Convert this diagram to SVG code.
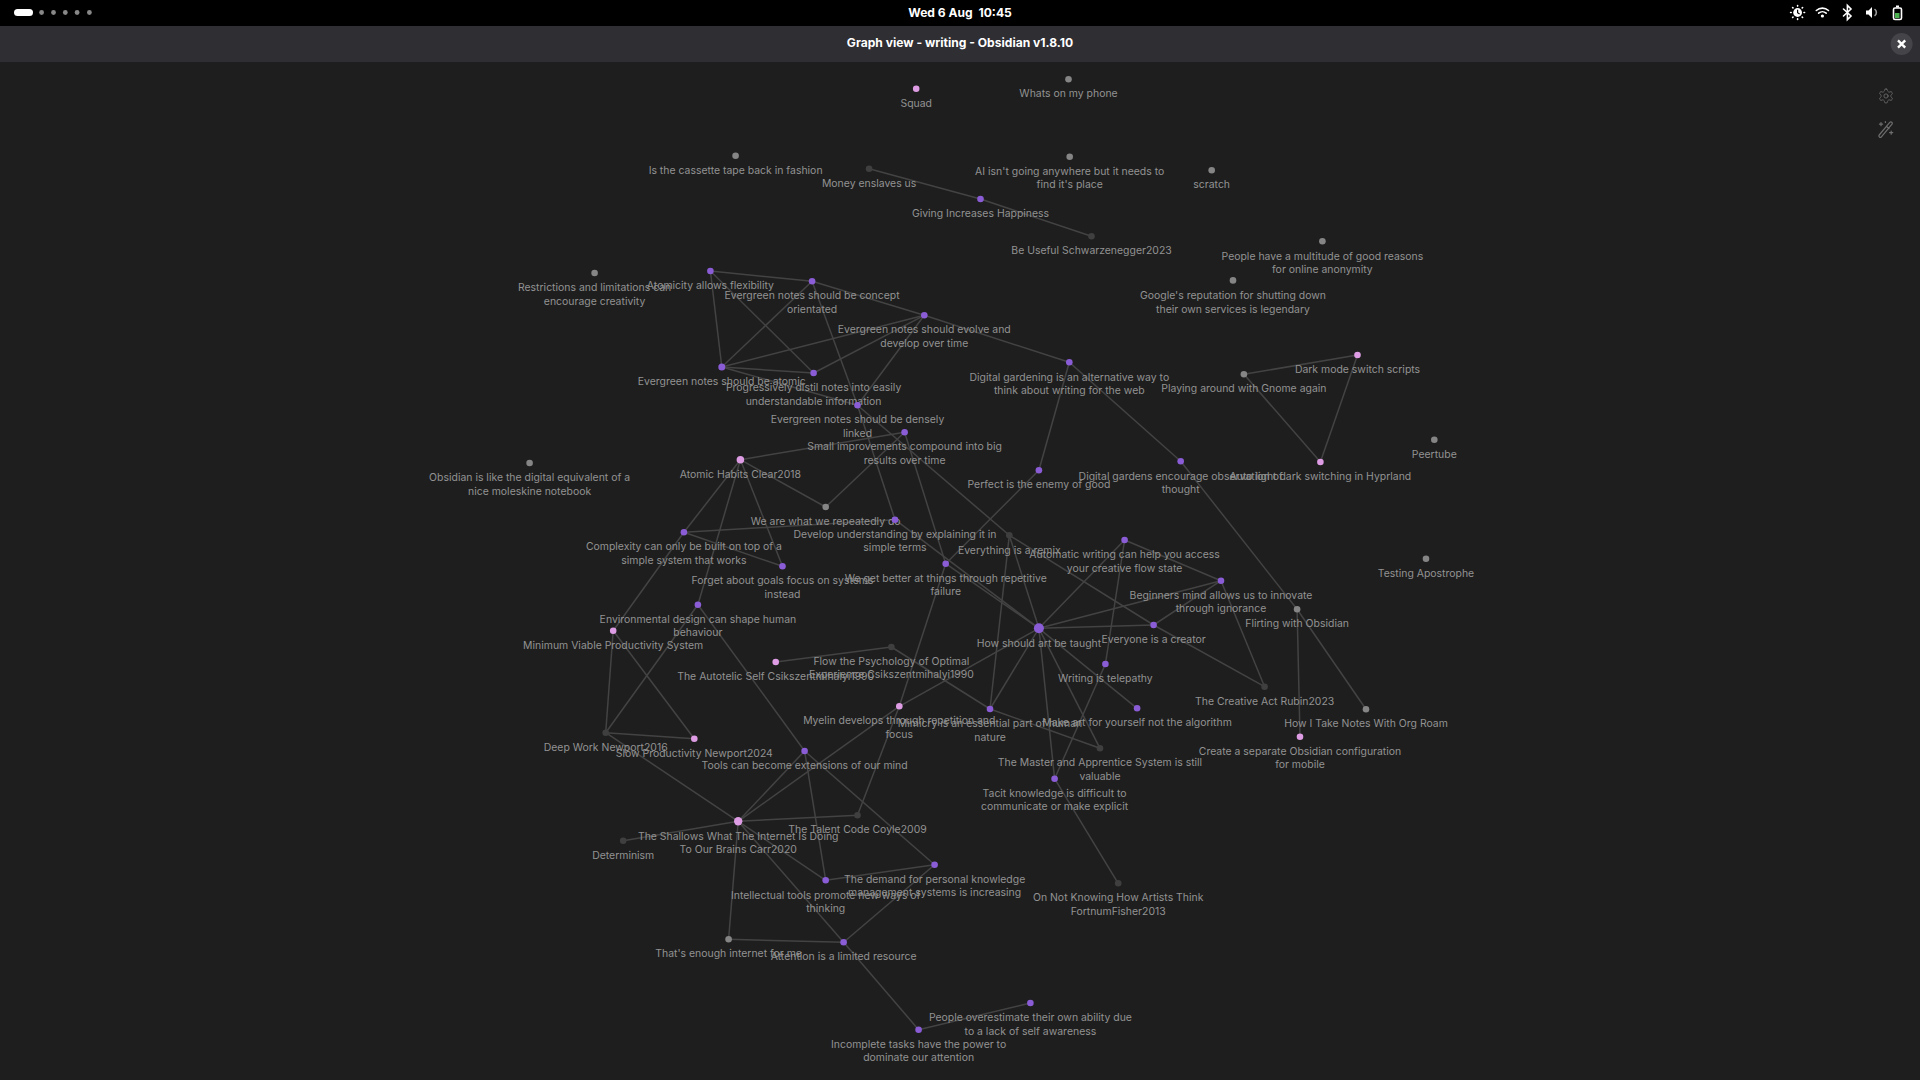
<svg xmlns="http://www.w3.org/2000/svg" width="1920" height="1080" viewBox="0 0 1920 1080">
<style>
text{font-family:Inter,"Liberation Sans",sans-serif}
.l{font-size:10.45px;fill:#929292;text-anchor:middle}
.e line{stroke:#434343;stroke-width:1.5}
.p{fill:#8a5cd6}.k{fill:#dd9ce3}.g{fill:#858585}.d{fill:#3f3f3f}
.h{font-size:12.1px;font-weight:700;fill:#fff;text-anchor:middle;white-space:pre}
.t{fill:none;stroke:#fff;stroke-width:1.6;stroke-linecap:round}
.s{fill:none;stroke:#6e6e6e;stroke-width:1.2;stroke-linecap:round;stroke-linejoin:round}
</style>
<rect width="1920" height="1080" fill="#1e1e1e"/>
<rect width="1920" height="26" fill="#000"/>
<rect y="26" width="1920" height="36" fill="#2e2e33"/>
<g id="topbar">
<rect x="14" y="9" width="19" height="7" rx="3.5" fill="#fff"/>
<g fill="#888"><circle cx="41.6" cy="12.5" r="2.4"/><circle cx="53.5" cy="12.5" r="2.4"/><circle cx="65.3" cy="12.5" r="2.4"/><circle cx="77.1" cy="12.5" r="2.4"/><circle cx="89.4" cy="12.5" r="2.4"/></g>
<text class="h" x="960" y="17">Wed 6 Aug  10:45</text>
<g id="tray">
<circle cx="1797.6" cy="12.5" r="4.4" fill="#fff"/><path d="M1797.6 9.8v2.9l2 1.4" fill="none" stroke="#000" stroke-width="1.2"/><path class="t" stroke-width="1.2" d="M1797.6 5.5v.6M1797.6 18.9v.6M1790.6 12.5h.6M1804 12.5h.6M1792.6 7.5l.4.4M1802.2 17.1l.4.4M1792.6 17.5l.4-.4M1802.2 7.9l.4-.4"/>
<path class="t" d="M1816.3 10.5a9 9 0 0 1 12.2 0M1818.6 13.2a5.6 5.6 0 0 1 7.6 0"/><circle cx="1822.4" cy="16" r="1.6" fill="#fff"/>
<path class="t" d="M1843.5 9l7.5 7-3.6 3.5V5.5l3.6 3.5-7.5 7"/>
<path d="M1866 10.5h2.5l3.5-3.5v11l-3.5-3.5H1866z" fill="#fff"/><path class="t" d="M1875 9.5a4 4 0 0 1 0 6" stroke-width="1.1" opacity=".6"/>
<rect x="1893.5" y="8" width="8" height="11.5" rx="1.5" class="t" stroke-width="1.3"/><rect x="1896" y="5.5" width="3" height="2" fill="#fff"/><rect x="1895" y="13" width="4.5" height="5" fill="#4caf50"/>
</g>
<text class="h" x="960" y="47">Graph view - writing - Obsidian v1.8.10</text>
<circle cx="1901.6" cy="44" r="11" fill="#454549"/>
<path d="M1898 40.4l7.2 7.2M1905.2 40.4l-7.2 7.2" stroke="#fff" stroke-width="2.4" fill="none"/>
</g>
<g id="graph-controls">
<g transform="translate(1877.6 87.6) scale(.7)"><path class="s" stroke-width="1.7" d="M12.22 2h-.44a2 2 0 0 0-2 2v.18a2 2 0 0 1-1 1.73l-.43.25a2 2 0 0 1-2 0l-.15-.08a2 2 0 0 0-2.73.73l-.22.38a2 2 0 0 0 .73 2.73l.15.1a2 2 0 0 1 1 1.72v.51a2 2 0 0 1-1 1.74l-.15.09a2 2 0 0 0-.73 2.73l.22.38a2 2 0 0 0 2.73.73l.15-.08a2 2 0 0 1 2 0l.43.25a2 2 0 0 1 1 1.73V20a2 2 0 0 0 2 2h.44a2 2 0 0 0 2-2v-.18a2 2 0 0 1 1-1.73l.43-.25a2 2 0 0 1 2 0l.15.08a2 2 0 0 0 2.73-.73l.22-.39a2 2 0 0 0-.73-2.73l-.15-.08a2 2 0 0 1-1-1.74v-.5a2 2 0 0 1 1-1.74l.15-.09a2 2 0 0 0 .73-2.73l-.22-.38a2 2 0 0 0-2.73-.73l-.15.08a2 2 0 0 1-2 0l-.43-.25a2 2 0 0 1-1-1.73V4a2 2 0 0 0-2-2z"/><circle class="s" stroke-width="1.7" cx="12" cy="12" r="3"/></g>
<path class="s" d="M1879.2 135l10.6-12.6a1.4 1.4 0 0 1 2.2 1.8l-10.6 12.6a1.4 1.4 0 0 1-2.2-1.8zM1886.6 126.5l2.4 2M1881 122.5v3.2M1879.4 124.1h3.2M1891.2 131v3.2M1889.6 132.6h3.2M1885.4 121.5v1"/>
</g>
<g class="e" id="connectors">
<line x1="869.1" y1="168.7" x2="980.5" y2="199"/>
<line x1="980.5" y1="199" x2="1091.5" y2="236.3"/>
<line x1="710.4" y1="271" x2="812.1" y2="281.3"/>
<line x1="710.4" y1="271" x2="721.8" y2="367"/>
<line x1="710.4" y1="271" x2="813.6" y2="373"/>
<line x1="812.1" y1="281.3" x2="721.8" y2="367"/>
<line x1="812.1" y1="281.3" x2="924.3" y2="315.3"/>
<line x1="812.1" y1="281.3" x2="857.5" y2="405.3"/>
<line x1="924.3" y1="315.3" x2="721.8" y2="367"/>
<line x1="924.3" y1="315.3" x2="813.6" y2="373"/>
<line x1="924.3" y1="315.3" x2="857.5" y2="405.3"/>
<line x1="924.3" y1="315.3" x2="1069.3" y2="362.3"/>
<line x1="721.8" y1="367" x2="813.6" y2="373"/>
<line x1="721.8" y1="367" x2="857.5" y2="405.3"/>
<line x1="857.5" y1="405.3" x2="895" y2="519.7"/>
<line x1="857.5" y1="405.3" x2="1009.3" y2="535.3"/>
<line x1="904.6" y1="432.3" x2="740.4" y2="459.7"/>
<line x1="904.6" y1="432.3" x2="825.7" y2="507"/>
<line x1="904.6" y1="432.3" x2="945.7" y2="563.7"/>
<line x1="740.4" y1="459.7" x2="825.7" y2="507"/>
<line x1="740.4" y1="459.7" x2="683.9" y2="532.3"/>
<line x1="740.4" y1="459.7" x2="697.9" y2="604.7"/>
<line x1="740.4" y1="459.7" x2="782.5" y2="566.3"/>
<line x1="683.9" y1="532.3" x2="782.5" y2="566.3"/>
<line x1="683.9" y1="532.3" x2="613.2" y2="630.7"/>
<line x1="683.9" y1="532.3" x2="895" y2="519.7"/>
<line x1="605.7" y1="732.7" x2="697.9" y2="604.7"/>
<line x1="605.7" y1="732.7" x2="613.2" y2="630.7"/>
<line x1="605.7" y1="732.7" x2="694.3" y2="738.7"/>
<line x1="613.2" y1="630.7" x2="694.3" y2="738.7"/>
<line x1="605.7" y1="732.7" x2="738.2" y2="821.3"/>
<line x1="697.9" y1="604.7" x2="804.6" y2="751"/>
<line x1="891.4" y1="647" x2="775.7" y2="662"/>
<line x1="891.4" y1="647" x2="990" y2="709"/>
<line x1="945.7" y1="563.7" x2="899.3" y2="706.3"/>
<line x1="899.3" y1="706.3" x2="857.5" y2="815.3"/>
<line x1="899.3" y1="706.3" x2="1038.9" y2="628.3"/>
<line x1="899.3" y1="706.3" x2="738.2" y2="821.3"/>
<line x1="804.6" y1="751" x2="738.2" y2="821.3"/>
<line x1="804.6" y1="751" x2="825.7" y2="880.3"/>
<line x1="804.6" y1="751" x2="934.6" y2="864.7"/>
<line x1="738.2" y1="821.3" x2="857.5" y2="815.3"/>
<line x1="738.2" y1="821.3" x2="623.2" y2="840.7"/>
<line x1="738.2" y1="821.3" x2="728.6" y2="939.3"/>
<line x1="738.2" y1="821.3" x2="825.7" y2="880.3"/>
<line x1="738.2" y1="821.3" x2="843.6" y2="942.3"/>
<line x1="934.6" y1="864.7" x2="825.7" y2="880.3"/>
<line x1="934.6" y1="864.7" x2="843.6" y2="942.3"/>
<line x1="728.6" y1="939.3" x2="843.6" y2="942.3"/>
<line x1="843.6" y1="942.3" x2="918.6" y2="1029.7"/>
<line x1="918.6" y1="1029.7" x2="1030.4" y2="1003"/>
<line x1="895" y1="519.7" x2="1038.9" y2="628.3"/>
<line x1="945.7" y1="563.7" x2="1038.9" y2="628.3"/>
<line x1="1038.9" y1="470.3" x2="945.7" y2="563.7"/>
<line x1="1038.9" y1="470.3" x2="1069.3" y2="362.3"/>
<line x1="1069.3" y1="362.3" x2="1180.7" y2="461.3"/>
<line x1="1180.7" y1="461.3" x2="1297.1" y2="609.3"/>
<line x1="1297.1" y1="609.3" x2="1300" y2="736.7"/>
<line x1="1297.1" y1="609.3" x2="1366" y2="709.3"/>
<line x1="1243.9" y1="374.3" x2="1357.5" y2="355"/>
<line x1="1243.9" y1="374.3" x2="1320.4" y2="462"/>
<line x1="1357.5" y1="355" x2="1320.4" y2="462"/>
<line x1="1009.3" y1="535.3" x2="1153.6" y2="625"/>
<line x1="1009.3" y1="535.3" x2="1038.9" y2="628.3"/>
<line x1="1009.3" y1="535.3" x2="990" y2="709"/>
<line x1="1038.9" y1="628.3" x2="1124.6" y2="540"/>
<line x1="1038.9" y1="628.3" x2="1221" y2="580.7"/>
<line x1="1038.9" y1="628.3" x2="1153.6" y2="625"/>
<line x1="1038.9" y1="628.3" x2="1137.1" y2="708.3"/>
<line x1="1038.9" y1="628.3" x2="1054.6" y2="778.7"/>
<line x1="1038.9" y1="628.3" x2="1100" y2="748.3"/>
<line x1="1038.9" y1="628.3" x2="990" y2="709"/>
<line x1="1124.6" y1="540" x2="1221" y2="580.7"/>
<line x1="1124.6" y1="540" x2="1105.4" y2="664"/>
<line x1="1105.4" y1="664" x2="1054.6" y2="778.7"/>
<line x1="1221" y1="580.7" x2="1153.6" y2="625"/>
<line x1="1221" y1="580.7" x2="1264.6" y2="686.7"/>
<line x1="1153.6" y1="625" x2="1264.6" y2="686.7"/>
<line x1="990" y1="709" x2="1100" y2="748.3"/>
<line x1="1054.6" y1="778.7" x2="1118.2" y2="883.3"/>
</g>
<g id="n-squad"><circle class="k" cx="916.2" cy="88.7" r="3.3"/><text class="l" x="916.2" y="106.5">Squad</text></g>
<g id="n-whats"><circle class="g" cx="1068.5" cy="79.3" r="3.3"/><text class="l" x="1068.5" y="97.3">Whats on my phone</text></g>
<g id="n-cassette"><circle class="g" cx="735.6" cy="155.7" r="3.3"/><text class="l" x="735.6" y="173.7">Is the cassette tape back in fashion</text></g>
<g id="n-money"><circle class="d" cx="869.1" cy="168.7" r="3.3"/><text class="l" x="869.1" y="187.3">Money enslaves us</text></g>
<g id="n-ai"><circle class="g" cx="1069.7" cy="156.7" r="3.3"/><text class="l" x="1069.7" y="175">AI isn't going anywhere but it needs to</text><text class="l" x="1069.7" y="188.3">find it's place</text></g>
<g id="n-scratch"><circle class="g" cx="1211.7" cy="170.3" r="3.3"/><text class="l" x="1211.7" y="188.3">scratch</text></g>
<g id="n-giving"><circle class="p" cx="980.5" cy="199" r="3.3"/><text class="l" x="980.5" y="217.3">Giving Increases Happiness</text></g>
<g id="n-beuseful"><circle class="d" cx="1091.5" cy="236.3" r="3.3"/><text class="l" x="1091.5" y="254.3">Be Useful Schwarzenegger2023</text></g>
<g id="n-people-have"><circle class="g" cx="1322.4" cy="241.2" r="3.3"/><text class="l" x="1322.4" y="259.9">People have a multitude of good reasons</text><text class="l" x="1322.4" y="273.4">for online anonymity</text></g>
<g id="n-google"><circle class="g" cx="1233" cy="280.4" r="3.3"/><text class="l" x="1233" y="299">Google's reputation for shutting down</text><text class="l" x="1233" y="312.6">their own services is legendary</text></g>
<g id="n-restrictions"><circle class="g" cx="594.6" cy="273" r="3.3"/><text class="l" x="594.6" y="291.3">Restrictions and limitations can</text><text class="l" x="594.6" y="304.7">encourage creativity</text></g>
<g id="n-atomicity"><circle class="p" cx="710.4" cy="271" r="3.3"/><text class="l" x="710.4" y="289.3">Atomicity allows flexibility</text></g>
<g id="n-concept"><circle class="p" cx="812.1" cy="281.3" r="3.3"/><text class="l" x="812.1" y="299.3">Evergreen notes should be concept</text><text class="l" x="812.1" y="312.7">orientated</text></g>
<g id="n-evolve"><circle class="p" cx="924.3" cy="315.3" r="3.3"/><text class="l" x="924.3" y="333.3">Evergreen notes should evolve and</text><text class="l" x="924.3" y="346.7">develop over time</text></g>
<g id="n-atomic"><circle class="p" cx="721.8" cy="367" r="3.5"/><text class="l" x="721.8" y="385.3">Evergreen notes should be atomic</text></g>
<g id="n-progressively"><circle class="p" cx="813.6" cy="373" r="3.3"/><text class="l" x="813.6" y="391.3">Progressively distil notes into easily</text><text class="l" x="813.6" y="404.7">understandable information</text></g>
<g id="n-densely"><circle class="p" cx="857.5" cy="405.3" r="3.3"/><text class="l" x="857.5" y="423.3">Evergreen notes should be densely</text><text class="l" x="857.5" y="436.7">linked</text></g>
<g id="n-small"><circle class="p" cx="904.6" cy="432.3" r="3.3"/><text class="l" x="904.6" y="450.3">Small improvements compound into big</text><text class="l" x="904.6" y="464">results over time</text></g>
<g id="n-atomic-habits"><circle class="k" cx="740.4" cy="459.7" r="3.8"/><text class="l" x="740.4" y="478.3">Atomic Habits Clear2018</text></g>
<g id="n-obsidian"><circle class="g" cx="529.6" cy="463" r="3.3"/><text class="l" x="529.6" y="481.3">Obsidian is like the digital equivalent of a</text><text class="l" x="529.6" y="494.7">nice moleskine notebook</text></g>
<g id="n-weare"><circle class="g" cx="825.7" cy="507" r="3.3"/><text class="l" x="825.7" y="525">We are what we repeatedly do</text></g>
<g id="n-develop"><circle class="p" cx="895" cy="519.7" r="3.3"/><text class="l" x="895" y="537.7">Develop understanding by explaining it in</text><text class="l" x="895" y="551.3">simple terms</text></g>
<g id="n-complexity"><circle class="p" cx="683.9" cy="532.3" r="3.3"/><text class="l" x="683.9" y="550.3">Complexity can only be built on top of a</text><text class="l" x="683.9" y="563.7">simple system that works</text></g>
<g id="n-everything"><circle class="d" cx="1009.3" cy="535.3" r="3.3"/><text class="l" x="1009.3" y="553.7">Everything is a remix</text></g>
<g id="n-gardening"><circle class="p" cx="1069.3" cy="362.3" r="3.3"/><text class="l" x="1069.3" y="380.7">Digital gardening is an alternative way to</text><text class="l" x="1069.3" y="394.3">think about writing for the web</text></g>
<g id="n-darkmode"><circle class="k" cx="1357.5" cy="355" r="3.3"/><text class="l" x="1357.5" y="373">Dark mode switch scripts</text></g>
<g id="n-playing"><circle class="g" cx="1243.9" cy="374.3" r="3.3"/><text class="l" x="1243.9" y="392.3">Playing around with Gnome again</text></g>
<g id="n-peertube"><circle class="g" cx="1434.3" cy="439.7" r="3.3"/><text class="l" x="1434.3" y="458">Peertube</text></g>
<g id="n-gardens"><circle class="p" cx="1180.7" cy="461.3" r="3.3"/><text class="l" x="1180.7" y="479.7">Digital gardens encourage observation of</text><text class="l" x="1180.7" y="493">thought</text></g>
<g id="n-hyprland"><circle class="k" cx="1320.4" cy="462" r="3.3"/><text class="l" x="1320.4" y="480">Auto light dark switching in Hyprland</text></g>
<g id="n-perfect"><circle class="p" cx="1038.9" cy="470.3" r="3.3"/><text class="l" x="1038.9" y="488.3">Perfect is the enemy of good</text></g>
<g id="n-automatic"><circle class="p" cx="1124.6" cy="540" r="3.3"/><text class="l" x="1124.6" y="558.3">Automatic writing can help you access</text><text class="l" x="1124.6" y="571.7">your creative flow state</text></g>
<g id="n-beginners"><circle class="p" cx="1221" cy="580.7" r="3.3"/><text class="l" x="1221" y="598.7">Beginners mind allows us to innovate</text><text class="l" x="1221" y="612.3">through ignorance</text></g>
<g id="n-testing"><circle class="g" cx="1426" cy="558.7" r="3.3"/><text class="l" x="1426" y="576.7">Testing Apostrophe</text></g>
<g id="n-flirting"><circle class="g" cx="1297.1" cy="609.3" r="3.3"/><text class="l" x="1297.1" y="627.3">Flirting with Obsidian</text></g>
<g id="n-howshould"><circle class="p" cx="1038.9" cy="628.3" r="5"/><text class="l" x="1038.9" y="647.3">How should art be taught</text></g>
<g id="n-everyone"><circle class="p" cx="1153.6" cy="625" r="3.3"/><text class="l" x="1153.6" y="643.3">Everyone is a creator</text></g>
<g id="n-forget"><circle class="p" cx="782.5" cy="566.3" r="3.3"/><text class="l" x="782.5" y="584.3">Forget about goals focus on systems</text><text class="l" x="782.5" y="597.7">instead</text></g>
<g id="n-environmental"><circle class="p" cx="697.9" cy="604.7" r="3.3"/><text class="l" x="697.9" y="622.7">Environmental design can shape human</text><text class="l" x="697.9" y="636.3">behaviour</text></g>
<g id="n-minimum"><circle class="k" cx="613.2" cy="630.7" r="3.3"/><text class="l" x="613.2" y="648.7">Minimum Viable Productivity System</text></g>
<g id="n-weget"><circle class="p" cx="945.7" cy="563.7" r="3.3"/><text class="l" x="945.7" y="581.7">We get better at things through repetitive</text><text class="l" x="945.7" y="595.3">failure</text></g>
<g id="n-flow"><circle class="d" cx="891.4" cy="647" r="3.3"/><text class="l" x="891.4" y="664.7">Flow the Psychology of Optimal</text><text class="l" x="891.4" y="678.3">Experience Csikszentmihalyi1990</text></g>
<g id="n-autotelic"><circle class="k" cx="775.7" cy="662" r="3.3"/><text class="l" x="775.7" y="680">The Autotelic Self Csikszentmihalyi1990</text></g>
<g id="n-myelin"><circle class="k" cx="899.3" cy="706.3" r="3.3"/><text class="l" x="899.3" y="724.3">Myelin develops through repetition and</text><text class="l" x="899.3" y="737.7">focus</text></g>
<g id="n-mimicry"><circle class="p" cx="990" cy="709" r="3.3"/><text class="l" x="990" y="727.3">Mimicry is an essential part of human</text><text class="l" x="990" y="740.7">nature</text></g>
<g id="n-deep"><circle class="d" cx="605.7" cy="732.7" r="3.3"/><text class="l" x="605.7" y="751">Deep Work Newport2016</text></g>
<g id="n-slow"><circle class="k" cx="694.3" cy="738.7" r="3.3"/><text class="l" x="694.3" y="757">Slow Productivity Newport2024</text></g>
<g id="n-tools"><circle class="p" cx="804.6" cy="751" r="3.3"/><text class="l" x="804.6" y="769.3">Tools can become extensions of our mind</text></g>
<g id="n-writing"><circle class="p" cx="1105.4" cy="664" r="3.3"/><text class="l" x="1105.4" y="682.3">Writing is telepathy</text></g>
<g id="n-makeart"><circle class="p" cx="1137.1" cy="708.3" r="3.3"/><text class="l" x="1137.1" y="726.3">Make art for yourself not the algorithm</text></g>
<g id="n-creative"><circle class="d" cx="1264.6" cy="686.7" r="3.3"/><text class="l" x="1264.6" y="704.7">The Creative Act Rubin2023</text></g>
<g id="n-master"><circle class="d" cx="1100" cy="748.3" r="3.3"/><text class="l" x="1100" y="766.3">The Master and Apprentice System is still</text><text class="l" x="1100" y="780">valuable</text></g>
<g id="n-tacit"><circle class="p" cx="1054.6" cy="778.7" r="3.3"/><text class="l" x="1054.6" y="797">Tacit knowledge is difficult to</text><text class="l" x="1054.6" y="810.3">communicate or make explicit</text></g>
<g id="n-howitake"><circle class="g" cx="1366" cy="709.3" r="3.3"/><text class="l" x="1366" y="727.3">How I Take Notes With Org Roam</text></g>
<g id="n-create"><circle class="k" cx="1300" cy="736.7" r="3.3"/><text class="l" x="1300" y="755">Create a separate Obsidian configuration</text><text class="l" x="1300" y="768.3">for mobile</text></g>
<g id="n-shallows"><circle class="k" cx="738.2" cy="821.3" r="4.2"/><text class="l" x="738.2" y="840">The Shallows What The Internet Is Doing</text><text class="l" x="738.2" y="853.3">To Our Brains Carr2020</text></g>
<g id="n-talent"><circle class="d" cx="857.5" cy="815.3" r="3.3"/><text class="l" x="857.5" y="833.3">The Talent Code Coyle2009</text></g>
<g id="n-determinism"><circle class="d" cx="623.2" cy="840.7" r="3.3"/><text class="l" x="623.2" y="859">Determinism</text></g>
<g id="n-intellectual"><circle class="p" cx="825.7" cy="880.3" r="3.3"/><text class="l" x="825.7" y="898.7">Intellectual tools promote new ways of</text><text class="l" x="825.7" y="912.3">thinking</text></g>
<g id="n-demand"><circle class="p" cx="934.6" cy="864.7" r="3.3"/><text class="l" x="934.6" y="882.7">The demand for personal knowledge</text><text class="l" x="934.6" y="896.3">management systems is increasing</text></g>
<g id="n-enough"><circle class="g" cx="728.6" cy="939.3" r="3.3"/><text class="l" x="728.6" y="957.3">That's enough internet for me</text></g>
<g id="n-attention"><circle class="p" cx="843.6" cy="942.3" r="3.3"/><text class="l" x="843.6" y="960.3">Attention is a limited resource</text></g>
<g id="n-incomplete"><circle class="p" cx="918.6" cy="1029.7" r="3.3"/><text class="l" x="918.6" y="1048">Incomplete tasks have the power to</text><text class="l" x="918.6" y="1061.3">dominate our attention</text></g>
<g id="n-people"><circle class="p" cx="1030.4" cy="1003" r="3.3"/><text class="l" x="1030.4" y="1021.3">People overestimate their own ability due</text><text class="l" x="1030.4" y="1034.7">to a lack of self awareness</text></g>
<g id="n-onnot"><circle class="d" cx="1118.2" cy="883.3" r="3.3"/><text class="l" x="1118.2" y="901.3">On Not Knowing How Artists Think</text><text class="l" x="1118.2" y="915">FortnumFisher2013</text></g>
</svg>
